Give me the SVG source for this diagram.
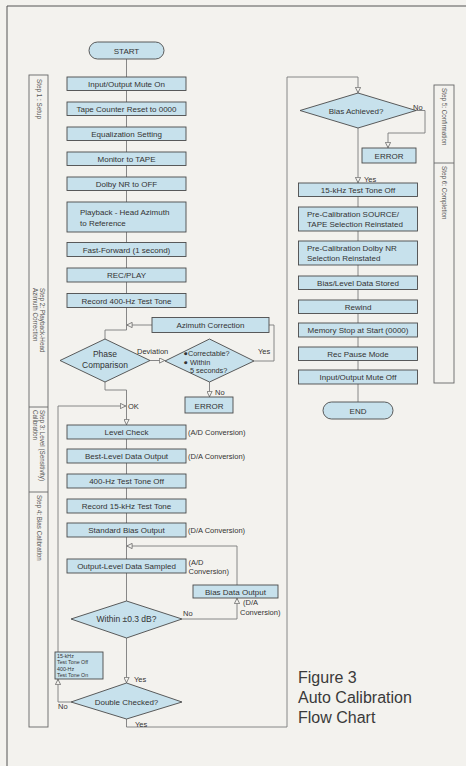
<svg xmlns="http://www.w3.org/2000/svg" width="466" height="766" viewBox="0 0 466 766">
<style>
text{font-family:"Liberation Sans",Arial,sans-serif;fill:#333;}
.t{font-size:8px;text-anchor:middle;}
.tl{font-size:8px;}
.lb{font-size:7.5px;}
.st{font-size:6.3px;fill:#555;}
.box{fill:#c7e1ec;stroke:#4a4a4a;stroke-width:0.9;}
.con{fill:none;stroke:#7a7a7a;stroke-width:0.9;}
.frame{fill:none;stroke:#555;stroke-width:1;}
.cap{font-size:16px;fill:#3a3a3a;}
</style>
<defs>
<marker id="ah" viewBox="0 0 10 10" refX="10" refY="5" markerWidth="6" markerHeight="6" markerUnits="userSpaceOnUse" orient="auto">
<path d="M0.6,0.6 L9.5,5 L0.6,9.4 z" fill="#f3f2ee" stroke="#666" stroke-width="1.3"/>
</marker>
</defs>
<rect x="0" y="0" width="466" height="766" fill="#f3f2ee"/>
<path class="frame" d="M7,766 V6 H466"/>

<g id="steps">
<rect x="29" y="75" width="19" height="652" fill="none" stroke="#666" stroke-width="0.9"/>
<line x1="29" y1="407" x2="48" y2="407" stroke="#666" stroke-width="0.9"/>
<line x1="29" y1="492" x2="48" y2="492" stroke="#666" stroke-width="0.9"/>
<text class="st" transform="translate(36.5,79) rotate(90)">Step 1 : Setup</text>
<text class="st" transform="translate(39.5,288) rotate(90)">Step 2: Playback-Head</text>
<text class="st" transform="translate(33,288) rotate(90)">Azimuth Correction</text>
<text class="st" transform="translate(39.5,410) rotate(90)">Step 3: Level (Sensitivity)</text>
<text class="st" transform="translate(33,410) rotate(90)">Calibration</text>
<text class="st" transform="translate(36.5,495) rotate(90)">Step 4: Bias Calibration</text>
<rect x="434" y="85" width="20" height="298" fill="none" stroke="#666" stroke-width="0.9"/>
<line x1="434" y1="163" x2="454" y2="163" stroke="#666" stroke-width="0.9"/>
<text class="st" transform="translate(441.5,88) rotate(90)">Step 5: Confirmation</text>
<text class="st" transform="translate(441.5,166) rotate(90)">Step 6: Completion</text>
</g>

<g id="connectors">
<path class="con" d="M126.5,59 V330 H105 V339"/>
<path class="con" d="M152,325 H126.5" marker-end="url(#ah)"/>
<path class="con" d="M105,382 V390 H126.5 V425" marker-end="url(#ah)"/>
<path class="con" d="M150,360.5 H165" marker-end="url(#ah)"/>
<path class="con" d="M254,361 H274 V325 H269"/>
<path class="con" d="M209.5,382 V397" marker-end="url(#ah)"/>
<path class="con" d="M58,652 V406 H126" marker-end="url(#ah)"/>
<path class="con" d="M126.5,439 V601"/>
<path class="con" d="M237,585 V546 H126.5" marker-end="url(#ah)"/>
<path class="con" d="M182,619 H237 V598" marker-end="url(#ah)"/>
<path class="con" d="M126.5,638 V683" marker-end="url(#ah)"/>
<path class="con" d="M71,702 H58 V679" marker-end="url(#ah)"/>
<path class="con" d="M126.5,719 V727 H287 V77 H358 V93" marker-end="url(#ah)"/>
<path class="con" d="M416,110.5 H425 V133 H388 V148" marker-end="url(#ah)"/>
<path class="con" d="M358,128 V183" marker-end="url(#ah)"/>
<path class="con" d="M358,196 V402"/>
</g>

<g id="labels">
<text class="lb" x="137" y="354">Deviation</text>
<text class="lb" x="258" y="354">Yes</text>
<text class="lb" x="215" y="395">No</text>
<text class="lb" x="128" y="409">OK</text>
<text class="lb" x="188" y="435">(A/D Conversion)</text>
<text class="lb" x="188" y="459">(D/A Conversion)</text>
<text class="lb" x="188" y="533">(D/A Conversion)</text>
<text class="lb" x="188.5" y="565">(A/D</text>
<text class="lb" x="188.5" y="574">Conversion)</text>
<text class="lb" x="243" y="605">(D/A</text>
<text class="lb" x="240" y="615">Conversion)</text>
<text class="lb" x="183" y="616">No</text>
<text class="lb" x="134" y="682">Yes</text>
<text class="lb" x="58" y="709">No</text>
<text class="lb" x="135" y="727">Yes</text>
<text class="lb" x="413" y="110">No</text>
<text class="lb" x="364" y="182">Yes</text>
</g>

<g id="start"><rect class="box" x="89" y="42" width="75" height="17" rx="8.5"/><text class="t" x="126.5" y="53.5">START</text></g>
<g id="mute-on"><rect class="box" x="67" y="77" width="119" height="13.5"/><text class="t" x="126.5" y="86.5">Input/Output Mute On</text></g>
<g id="counter"><rect class="box" x="67" y="102" width="119" height="13.5"/><text class="t" x="126.5" y="111.5">Tape Counter Reset to 0000</text></g>
<g id="eq"><rect class="box" x="67" y="127" width="119" height="13.5"/><text class="t" x="126.5" y="136.5">Equalization Setting</text></g>
<g id="monitor"><rect class="box" x="67" y="152" width="119" height="13.5"/><text class="t" x="126.5" y="161.5">Monitor to TAPE</text></g>
<g id="dolby-off"><rect class="box" x="67" y="177" width="119" height="13.5"/><text class="t" x="126.5" y="186.5">Dolby NR to OFF</text></g>
<g id="azimuth-ref"><rect class="box" x="67" y="202" width="119" height="30"/><text class="tl" x="80" y="215">Playback - Head Azimuth</text><text class="tl" x="80" y="225.5">to Reference</text></g>
<g id="ff"><rect class="box" x="67" y="242.5" width="119" height="14"/><text class="t" x="126.5" y="252.5">Fast-Forward (1 second)</text></g>
<g id="recplay"><rect class="box" x="67" y="268" width="119" height="14"/><text class="t" x="126.5" y="278">REC/PLAY</text></g>
<g id="rec400"><rect class="box" x="67" y="293.5" width="119" height="14"/><text class="t" x="126.5" y="303.5">Record 400-Hz Test Tone</text></g>
<g id="azimuth-corr"><rect class="box" x="152" y="317.5" width="117" height="15"/><text class="t" x="210.5" y="328">Azimuth Correction</text></g>
<g id="phase"><polygon class="box" points="105,339 150,360.5 105,382 60,360.5"/><text class="t" x="105" y="357" style="font-size:8.5px">Phase</text><text class="t" x="105" y="367.5" style="font-size:8.5px">Comparison</text></g>
<g id="correctable"><polygon class="box" points="209.5,339 254,361 209.5,382 165,361"/>
<text class="lb" x="183.5" y="356" style="font-size:7.3px">●Correctable?</text>
<text class="lb" x="183.5" y="364.5" style="font-size:7.3px">● Within</text>
<text class="lb" x="190" y="372.5" style="font-size:7.3px">5 seconds?</text></g>
<g id="error1"><rect class="box" x="185" y="397" width="48" height="16"/><text class="t" x="209" y="408.5">ERROR</text></g>
<g id="level-check"><rect class="box" x="67" y="425" width="119" height="14"/><text class="t" x="126.5" y="435">Level Check</text></g>
<g id="best-level"><rect class="box" x="67" y="449" width="119" height="14"/><text class="t" x="126.5" y="459">Best-Level Data Output</text></g>
<g id="tone400off"><rect class="box" x="67" y="474" width="119" height="14"/><text class="t" x="126.5" y="484">400-Hz Test Tone Off</text></g>
<g id="rec15k"><rect class="box" x="67" y="499" width="119" height="14"/><text class="t" x="126.5" y="509">Record 15-kHz Test Tone</text></g>
<g id="std-bias"><rect class="box" x="67" y="523" width="119" height="14"/><text class="t" x="126.5" y="533">Standard  Bias Output</text></g>
<g id="sampled"><rect class="box" x="67" y="559" width="119" height="14"/><text class="t" x="126.5" y="569">Output-Level Data Sampled</text></g>
<g id="bias-data"><rect class="box" x="193" y="585" width="85" height="13"/><text class="t" x="235.5" y="594.5">Bias Data Output</text></g>
<g id="within"><polygon class="box" points="126.5,601 182,619 126.5,638 71,619"/><text class="t" x="126.5" y="622" style="font-size:8.5px">Within ±0.3 dB?</text></g>
<g id="tone-switch"><rect class="box" x="55" y="652" width="48" height="27"/>
<text x="57" y="658" style="font-size:5.3px">15-kHz</text>
<text x="57" y="664.3" style="font-size:5.3px">Test Tone Off</text>
<text x="57" y="670.6" style="font-size:5.3px">400-Hz</text>
<text x="57" y="676.9" style="font-size:5.3px">Test Tone On</text></g>
<g id="double"><polygon class="box" points="126.5,683 182,702 126.5,719 71,702"/><text class="t" x="126.5" y="705">Double Checked?</text></g>

<g id="bias-achieved"><polygon class="box" points="358,93 416,110.5 358,128 300,110.5"/><text class="t" x="356" y="113.5">Bias Achieved?</text></g>
<g id="error2"><rect class="box" x="362" y="148" width="54" height="15"/><text class="t" x="389" y="159">ERROR</text></g>
<g id="tone15off"><rect class="box" x="298.5" y="183" width="119" height="13.5"/><text class="t" x="358" y="192.5">15-kHz Test Tone Off</text></g>
<g id="src-tape"><rect class="box" x="298.5" y="207" width="119" height="24"/><text class="tl" x="307" y="216.5">Pre-Calibration SOURCE/</text><text class="tl" x="307" y="227">TAPE Selection Reinstated</text></g>
<g id="dolby-re"><rect class="box" x="298.5" y="241" width="119" height="24"/><text class="tl" x="307" y="250.5">Pre-Calibration Dolby NR</text><text class="tl" x="307" y="261">Selection Reinstated</text></g>
<g id="stored"><rect class="box" x="298.5" y="276" width="119" height="13.5"/><text class="t" x="358" y="285.5">Bias/Level Data Stored</text></g>
<g id="rewind"><rect class="box" x="298.5" y="300" width="119" height="13.5"/><text class="t" x="358" y="309.5">Rewind</text></g>
<g id="memstop"><rect class="box" x="298.5" y="323" width="119" height="14"/><text class="t" x="358" y="333">Memory Stop at Start (0000)</text></g>
<g id="recpause"><rect class="box" x="298.5" y="347" width="119" height="13.5"/><text class="t" x="358" y="356.5">Rec Pause Mode</text></g>
<g id="mute-off"><rect class="box" x="298.5" y="370" width="119" height="14"/><text class="t" x="358" y="380">Input/Output Mute Off</text></g>
<g id="end"><rect class="box" x="323" y="402" width="70" height="17" rx="8.5"/><text class="t" x="358" y="413.5">END</text></g>

<g id="caption">
<text class="cap" x="298" y="683">Figure 3</text>
<text class="cap" x="298" y="703">Auto Calibration</text>
<text class="cap" x="298" y="723">Flow Chart</text>
</g>
</svg>
